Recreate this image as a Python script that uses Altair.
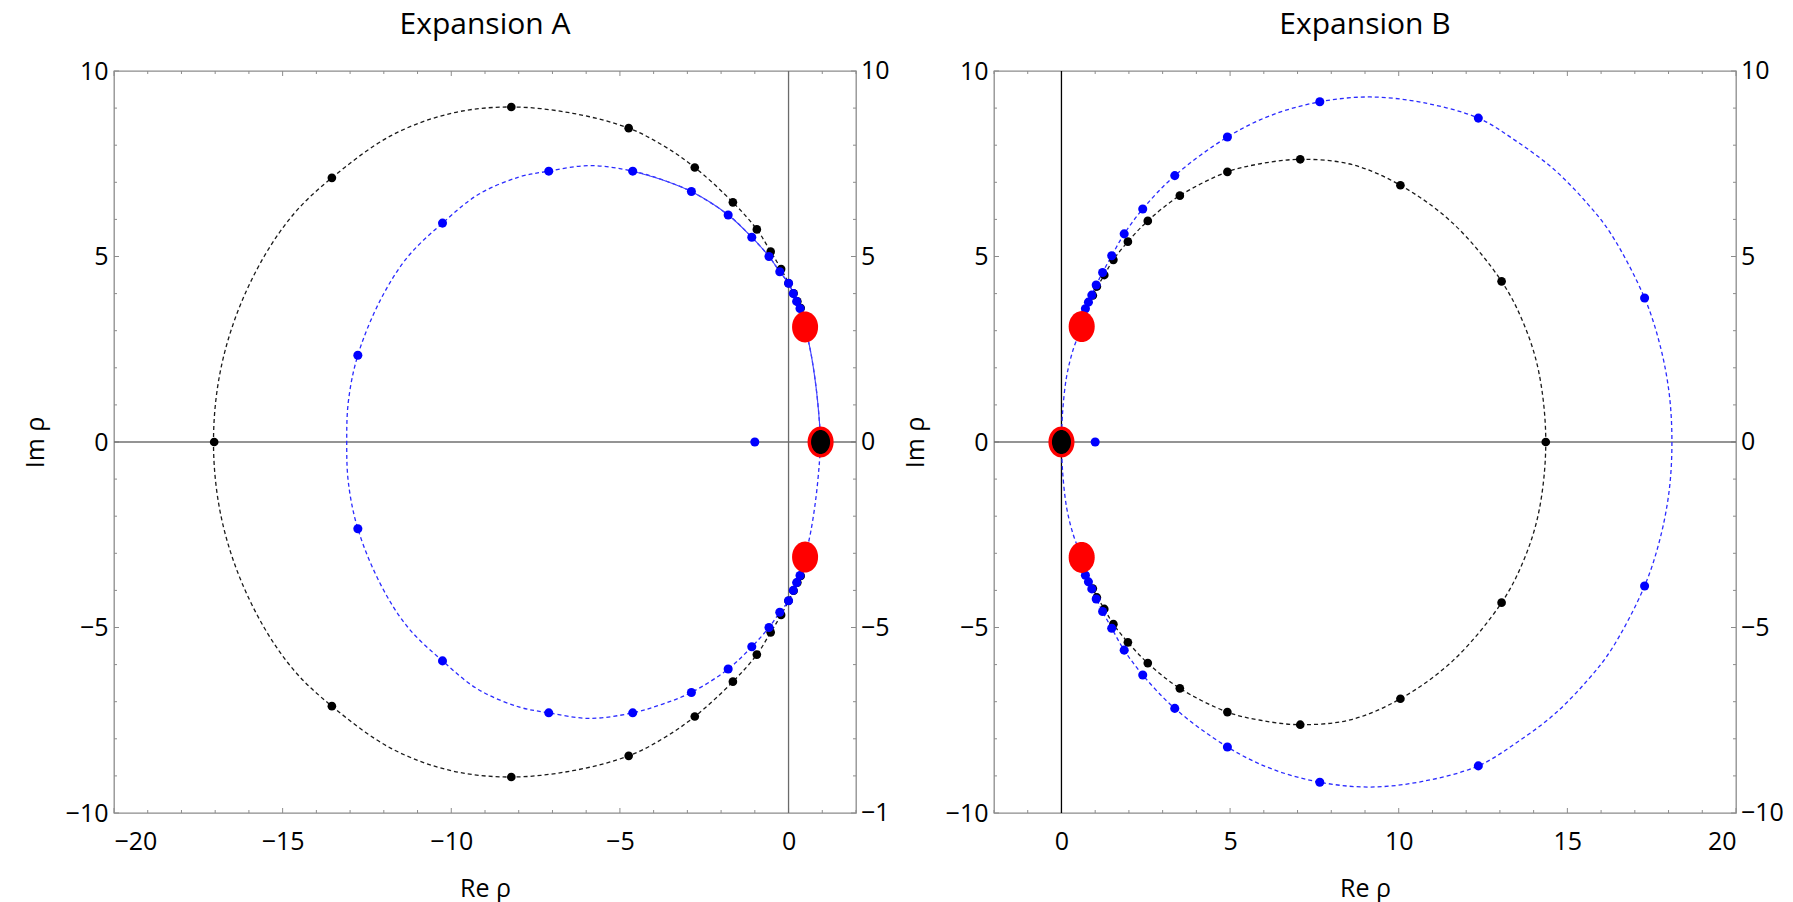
import math
import altair as alt
import pandas as pd

FONT = "Open Sans"

# ---------------- Panel A (Expansion A) ----------------
A_BLACK_DOT_X = [-17.03, -13.54, -8.22, -4.74, -2.78, -1.65, -0.94, -0.53, -0.22, 0.00, 0.15, 0.26, 0.36,
                 -13.54, -8.22, -4.74, -2.78, -1.65, -0.94, -0.53, -0.22, 0.00, 0.15, 0.26, 0.36]
A_BLACK_DOT_Y = [0.00, 7.12, 9.03, 8.46, 7.40, 6.46, 5.73, 5.13, 4.66, 4.28, 4.01, 3.79, 3.61,
                 -7.12, -9.03, -8.46, -7.40, -6.46, -5.73, -5.13, -4.66, -4.28, -4.01, -3.79, -3.61]

A_BLUE_DOT_X = [-12.77, -10.26, -7.11, -4.62, -2.88, -1.79, -1.09, -0.58, -0.26, 0.00, 0.14, 0.24, 0.34,
                -12.77, -10.26, -7.11, -4.62, -2.88, -1.79, -1.09, -0.58, -0.26, 0.00, 0.14, 0.24, 0.34, -1.00]
A_BLUE_DOT_Y = [2.34, 5.90, 7.30, 7.30, 6.75, 6.12, 5.52, 5.00, 4.59, 4.28, 4.00, 3.79, 3.60,
                -2.34, -5.90, -7.30, -7.30, -6.75, -6.12, -5.52, -5.00, -4.59, -4.28, -4.00, -3.79, -3.60, 0.00]

A_BLACK_CURVE_X = [0.49, 0.36, 0.15, -0.22, -0.53, -0.94, -1.65, -2.78, -3.70, -4.74, -6.40, -8.22, -10.00,
                   -11.80, -13.54, -14.62, -15.55, -16.38, -16.88, -17.05,
                   -16.88, -16.38, -15.55, -14.62, -13.54, -11.80, -10.00, -8.22, -6.40, -4.74, -3.70,
                   -2.78, -1.65, -0.94, -0.53, -0.22, 0.15, 0.36, 0.49]
A_BLACK_CURVE_Y = [3.10, 3.61, 4.01, 4.66, 5.13, 5.73, 6.46, 7.40, 7.98, 8.46, 8.86, 9.03, 8.86,
                   8.25, 7.12, 6.20, 5.00, 3.40, 1.75, 0.00,
                   -1.75, -3.40, -5.00, -6.20, -7.12, -8.25, -8.86, -9.03, -8.86, -8.46, -7.98,
                   -7.40, -6.46, -5.73, -5.13, -4.66, -4.01, -3.61, -3.10]

A_BLUE_CURVE_X = [0.95, 0.91, 0.81, 0.66, 0.49, 0.34, 0.24, 0.14, 0.00, -0.26, -0.58, -1.09, -1.79, -2.88,
                  -3.75, -4.62, -5.90, -7.11, -8.00, -9.20, -10.26, -11.30, -12.10, -12.77, -13.05, -13.10,
                  -13.05, -12.77, -12.10, -11.30, -10.26, -9.20, -8.00, -7.11, -5.90, -4.62, -3.75,
                  -2.88, -1.79, -1.09, -0.58, -0.26, 0.00, 0.14, 0.24, 0.34, 0.49, 0.66, 0.81, 0.91, 0.95]
A_BLUE_CURVE_Y = [0.00, 0.61, 1.52, 2.41, 3.10, 3.60, 3.79, 4.00, 4.28, 4.59, 5.00, 5.52, 6.12, 6.75,
                  7.07, 7.30, 7.45, 7.30, 7.14, 6.67, 5.90, 4.98, 3.83, 2.34, 1.10, 0.00,
                  -1.10, -2.34, -3.83, -4.98, -5.90, -6.67, -7.14, -7.30, -7.45, -7.30, -7.07,
                  -6.75, -6.12, -5.52, -5.00, -4.59, -4.28, -4.00, -3.79, -3.60, -3.10, -2.41, -1.52, -0.61, 0.00]

A_BLUE_SOLID_X = [0.95, 0.91, 0.81, 0.66, 0.49, 0.34, 0.24, 0.14, 0.00, -0.26, -0.58, -1.09, -1.79, -2.88,
                  -3.75, -4.62]
A_BLUE_SOLID_Y = [0.00, 0.61, 1.52, 2.41, 3.10, 3.60, 3.79, 4.00, 4.28, 4.59, 5.00, 5.52, 6.12, 6.75,
                  7.07, 7.30]

A_RED_X = [0.49, 0.49]
A_RED_Y = [3.10, -3.10]
A_ROOT_X = [0.95]
A_ROOT_Y = [0.00]

A_X_DOMAIN = [-20, 2]
A_X_MAJOR = [-20, -15, -10, -5, 0]
A_X_MINOR = [v for v in range(-19, 3) if v % 5 != 0]

# ---------------- Panel B (Expansion B) ----------------
B_BLACK_DOT_X = [0.93, 1.05, 1.27, 1.54, 1.97, 2.56, 3.51, 4.92, 7.08, 10.05, 13.05, 14.36,
                 0.93, 1.05, 1.27, 1.54, 1.97, 2.56, 3.51, 4.92, 7.08, 10.05, 13.05]
B_BLACK_DOT_Y = [3.95, 4.19, 4.50, 4.91, 5.40, 5.96, 6.64, 7.28, 7.62, 6.92, 4.33, 0.00,
                 -3.95, -4.19, -4.50, -4.91, -5.40, -5.96, -6.64, -7.28, -7.62, -6.92, -4.33]

B_BLUE_DOT_X = [0.71, 0.80, 0.90, 1.03, 1.22, 1.49, 1.86, 2.41, 3.36, 4.92, 7.66, 12.36, 17.29,
                0.71, 0.80, 0.90, 1.03, 1.22, 1.49, 1.86, 2.41, 3.36, 4.92, 7.66, 12.36, 17.29, 1.00]
B_BLUE_DOT_Y = [3.59, 3.77, 3.96, 4.23, 4.57, 5.02, 5.61, 6.28, 7.18, 8.22, 9.17, 8.73, 3.88,
                -3.59, -3.77, -3.96, -4.23, -4.57, -5.02, -5.61, -6.28, -7.18, -8.22, -9.17, -8.73, -3.88, 0.00]

B_BLACK_CURVE_X = [0.60, 0.93, 1.27, 1.54, 1.97, 2.56, 3.51, 4.92, 5.90, 7.08, 8.60, 10.05, 11.60, 13.05,
                   13.70, 14.15, 14.36, 14.15, 13.70, 13.05, 11.60, 10.05, 8.60, 7.08, 5.90, 4.92, 3.51,
                   2.56, 1.97, 1.54, 1.27, 0.93, 0.60]
B_BLACK_CURVE_Y = [3.11, 3.95, 4.50, 4.91, 5.40, 5.96, 6.64, 7.28, 7.50, 7.62, 7.48, 6.92, 5.90, 4.33,
                   3.20, 1.90, 0.00, -1.90, -3.20, -4.33, -5.90, -6.92, -7.48, -7.62, -7.50, -7.28, -6.64,
                   -5.96, -5.40, -4.91, -4.50, -3.95, -3.11]

B_BLUE_CURVE_X = [0.00, 0.03, 0.15, 0.35, 0.60, 0.71, 0.80, 0.90, 1.03, 1.22, 1.49, 1.86, 2.41, 3.36, 4.92,
                  6.20, 7.66, 9.15, 10.70, 12.36, 13.50, 14.60, 15.60, 16.30, 17.29, 17.75, 18.02, 18.10,
                  18.02, 17.75, 17.29, 16.30, 15.60, 14.60, 13.50, 12.36, 10.70, 9.15, 7.66, 6.20, 4.92,
                  3.36, 2.41, 1.86, 1.49, 1.22, 1.03, 0.90, 0.80, 0.71, 0.60, 0.35, 0.15, 0.03, 0.00]
B_BLUE_CURVE_Y = [0.00, 0.75, 1.75, 2.50, 3.11, 3.59, 3.77, 3.96, 4.23, 4.57, 5.02, 5.61, 6.28, 7.18, 8.22,
                  8.80, 9.17, 9.30, 9.15, 8.73, 8.10, 7.35, 6.42, 5.60, 3.88, 2.60, 1.30, 0.00,
                  -1.30, -2.60, -3.88, -5.60, -6.42, -7.35, -8.10, -8.73, -9.15, -9.30, -9.17, -8.80, -8.22,
                  -7.18, -6.28, -5.61, -5.02, -4.57, -4.23, -3.96, -3.77, -3.59, -3.11, -2.50, -1.75, -0.75, 0.00]

B_RED_X = [0.60, 0.60]
B_RED_Y = [3.11, -3.11]
B_ROOT_X = [0.00]
B_ROOT_Y = [0.00]

B_X_DOMAIN = [-2, 20]
B_X_MAJOR = [0, 5, 10, 15, 20]
B_X_MINOR = [v for v in range(-2, 21) if v % 5 != 0]

Y_DOMAIN = [-10, 10]
Y_MAJOR = [-10, -5, 0, 5, 10]
Y_MAJOR_LABELS = ["−10", "−5", "0", "5", "10"]
Y_MINOR = [v for v in range(-10, 11) if v % 5 != 0]

W = 742
H = 742
GAP = 138
FRAME = "#8c8c8c"
MAJ = 5
MIN = 3
LABEL_SIZE = 25


def ellipse_path(rx, ry, n=48):
    pts = [(rx * math.cos(2 * math.pi * k / n), ry * math.sin(2 * math.pi * k / n)) for k in range(n)]
    return "M" + "L".join(f"{x:.4f},{y:.4f}" for x, y in pts) + "Z"


RED_SHAPE = ellipse_path(0.84, 1.0)
ROOT_SHAPE = ellipse_path(0.82, 1.0)


def df_xy(xs, ys):
    return pd.DataFrame({"x": xs, "y": ys, "i": list(range(len(xs)))})


def panel(title, xdom, xmaj, xmin_, bdx, bdy, udx, udy, bcx, bcy, ucx, ucy, usx, usy,
          rx, ry, rtx, rty, vline_color, mask_left=False):
    xs = alt.Scale(domain=xdom, nice=False, zero=False)
    ys = alt.Scale(domain=Y_DOMAIN, nice=False, zero=False)

    left_axis = alt.Axis(orient="left", values=Y_MAJOR, ticks=False, domain=False, grid=False,
                         labelPadding=6, labelFontSize=LABEL_SIZE, labelFont=FONT, labelColor="black",
                         title="Im ρ", titleFont=FONT, titleFontSize=25, titleFontWeight="normal",
                         titleColor="black", titlePadding=17)
    bottom_axis = alt.Axis(orient="bottom", values=xmaj, ticks=False, domain=False, grid=False,
                           labelPadding=16, labelFontSize=LABEL_SIZE, labelFont=FONT, labelColor="black",
                           title="Re ρ", titleFont=FONT, titleFontSize=25, titleFontWeight="normal",
                           titleColor="black", titlePadding=22)

    X0 = alt.X("x:Q", scale=xs, axis=bottom_axis)
    Y0 = alt.Y("y:Q", scale=ys, axis=left_axis)

    ymaj = pd.DataFrame({"y": Y_MAJOR, "label": Y_MAJOR_LABELS})
    ymin = pd.DataFrame({"y": Y_MINOR})
    xmajd = pd.DataFrame({"x": xmaj})
    xmind = pd.DataFrame({"x": xmin_})

    tick = dict(color=FRAME, strokeWidth=1)
    layers = [
        # inward tick marks on all four sides of the frame
        alt.Chart(ymaj).mark_rule(**tick).encode(y=Y0, x=alt.value(0), x2=alt.value(MAJ)),
        alt.Chart(xmajd).mark_rule(**tick).encode(x=X0, y=alt.value(H - MAJ), y2=alt.value(H)),
        alt.Chart(ymaj).mark_rule(**tick).encode(y=Y0, x=alt.value(W - MAJ), x2=alt.value(W)),
        alt.Chart(ymin).mark_rule(**tick).encode(y=Y0, x=alt.value(0), x2=alt.value(MIN)),
        alt.Chart(ymin).mark_rule(**tick).encode(y=Y0, x=alt.value(W - MIN), x2=alt.value(W)),
        alt.Chart(xmajd).mark_rule(**tick).encode(x=X0, y=alt.value(0), y2=alt.value(MAJ)),
        alt.Chart(xmind).mark_rule(**tick).encode(x=X0, y=alt.value(H - MIN), y2=alt.value(H)),
        alt.Chart(xmind).mark_rule(**tick).encode(x=X0, y=alt.value(0), y2=alt.value(MIN)),
        # right-hand tick labels
        alt.Chart(ymaj).mark_text(align="left", baseline="middle", dx=5, font=FONT, fontSize=LABEL_SIZE,
                                  color="black").encode(y=Y0, x=alt.value(W), text="label:N"),
        # zero lines
        alt.Chart(pd.DataFrame({"y": [0]})).mark_rule(color="#707070", strokeWidth=1.3).encode(y=Y0),
        alt.Chart(pd.DataFrame({"x": [0]})).mark_rule(color=vline_color, strokeWidth=1.3).encode(x=X0),
        # dashed curves
        alt.Chart(df_xy(bcx, bcy)).mark_line(color="#1a1a1a", strokeWidth=1.3, strokeDash=[4, 3],
                                             interpolate="catmull-rom").encode(x=X0, y=Y0, order="i:Q"),
        alt.Chart(df_xy(ucx, ucy)).mark_line(color="#2b2bff", strokeWidth=1.3, strokeDash=[4, 3],
                                             interpolate="catmull-rom").encode(x=X0, y=Y0, order="i:Q"),
    ]
    if usx:
        layers.append(
            alt.Chart(df_xy(usx, usy)).mark_line(color="#4040ff", strokeWidth=1.1,
                                                 interpolate="catmull-rom").encode(x=X0, y=Y0, order="i:Q"))
    layers += [
        alt.Chart(df_xy(bdx, bdy)).mark_circle(color="black", size=75, opacity=1).encode(x=X0, y=Y0),
        alt.Chart(df_xy(udx, udy)).mark_circle(color="#0000ff", size=82, opacity=1).encode(x=X0, y=Y0),
        alt.Chart(df_xy(rx, ry)).mark_point(shape=RED_SHAPE, filled=True, fill="#ff0000", size=961,
                                            opacity=1, strokeWidth=0).encode(x=X0, y=Y0),
        alt.Chart(df_xy(rtx, rty)).mark_point(shape=ROOT_SHAPE, filled=True, fill="black", stroke="#ff0000",
                                              strokeWidth=3.5, size=756, opacity=1).encode(x=X0, y=Y0),
    ]
    if mask_left:
        # the neighbouring panel is cropped in the original: its right-hand labels are cut off here
        layers.append(
            alt.Chart(pd.DataFrame({"k": [0]})).mark_rect(color="white", opacity=1).encode(
                x=alt.value(-(GAP - 34)), x2=alt.value(-(GAP - 49)),
                y=alt.value(-10), y2=alt.value(H + 10)))
    return alt.layer(*layers).properties(
        width=W, height=H,
        title=alt.TitleParams(text=title, fontSize=30, font=FONT, fontWeight="normal", anchor="middle",
                              frame="group", offset=-5, baseline="alphabetic", color="black"))


chart_a = panel("Expansion A", A_X_DOMAIN, A_X_MAJOR, A_X_MINOR,
                A_BLACK_DOT_X, A_BLACK_DOT_Y, A_BLUE_DOT_X, A_BLUE_DOT_Y,
                A_BLACK_CURVE_X, A_BLACK_CURVE_Y, A_BLUE_CURVE_X, A_BLUE_CURVE_Y,
                A_BLUE_SOLID_X, A_BLUE_SOLID_Y, A_RED_X, A_RED_Y, A_ROOT_X, A_ROOT_Y, "#6b6b6b")
chart_b = panel("Expansion B", B_X_DOMAIN, B_X_MAJOR, B_X_MINOR,
                B_BLACK_DOT_X, B_BLACK_DOT_Y, B_BLUE_DOT_X, B_BLUE_DOT_Y,
                B_BLACK_CURVE_X, B_BLACK_CURVE_Y, B_BLUE_CURVE_X, B_BLUE_CURVE_Y,
                [], [], B_RED_X, B_RED_Y, B_ROOT_X, B_ROOT_Y, "#000000", mask_left=True)

chart = alt.hconcat(chart_a, chart_b, spacing=GAP, bounds="flush").properties(
    padding={"left": 22, "top": 9, "right": 5, "bottom": 0},
    background="white",
).configure_view(stroke=FRAME, strokeWidth=1.3)

chart.save("out.html", embed_options={"renderer": "svg", "actions": False})
